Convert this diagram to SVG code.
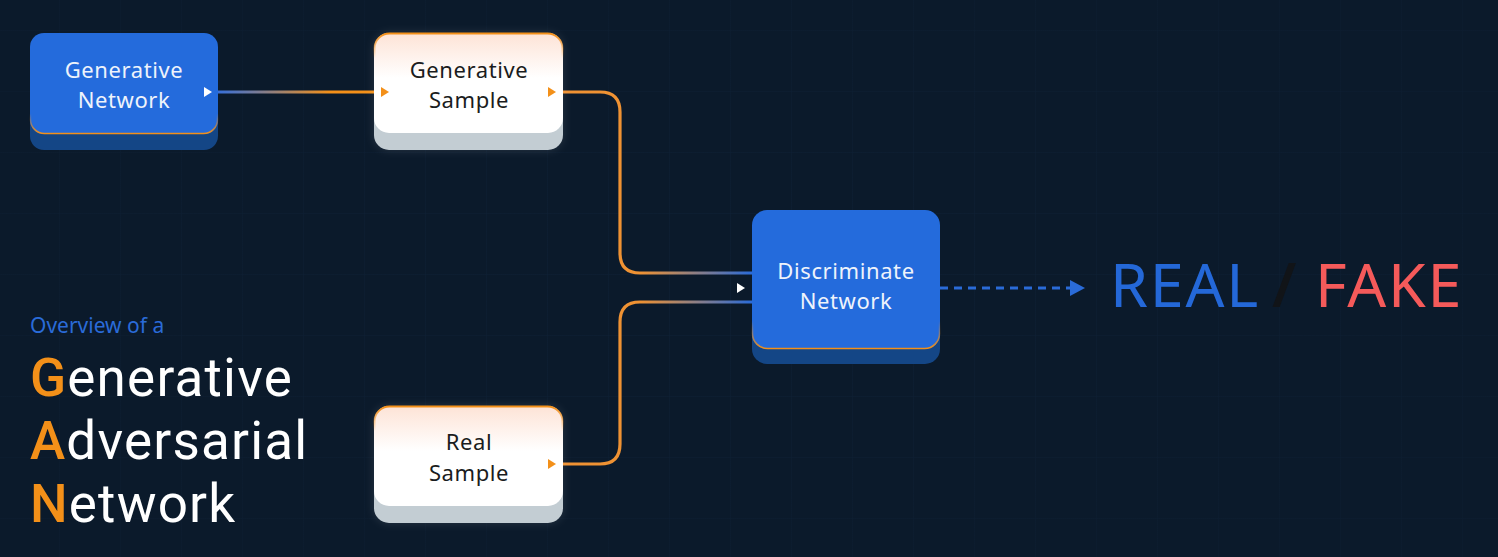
<svg xmlns="http://www.w3.org/2000/svg" width="1498" height="557" viewBox="0 0 1498 557">
<defs>
<style>
.bg{fill:#0b1a2b}
.nt{font-family:"Noto Sans","Liberation Sans",sans-serif;font-size:22px;text-anchor:middle;letter-spacing:0.6px}
.wt{fill:#eef3fb}
.dk{fill:#1a1c20}
.blueTop{fill:#246bdc}
.blueSh{fill:#144686}
.whiteSh{fill:#c3cdd3}
.conn{fill:none;stroke-width:3.2}
.big{font-family:Roboto,"Noto Sans","Liberation Sans",sans-serif;font-size:53px;fill:#ffffff;letter-spacing:1.2px}
.ini{fill:#f39019;font-weight:500}
</style>
<pattern id="grid" width="61" height="61" patternUnits="userSpaceOnUse" x="-1" y="31">
<path d="M61 0V61M0 61H61" fill="none" stroke="#10243a" stroke-width="1"/>
</pattern>
<radialGradient id="vig" cx="0.5" cy="0.5" r="0.6">
<stop offset="0" stop-color="#0b1a2b" stop-opacity="0.2"/>
<stop offset="1" stop-color="#0b1a2b" stop-opacity="0.6"/>
</radialGradient>
<linearGradient id="peach" x1="0" y1="0" x2="0" y2="1">
<stop offset="0" stop-color="#fde3d6"/>
<stop offset="0.45" stop-color="#ffffff"/>
<stop offset="1" stop-color="#ffffff"/>
</linearGradient>
<linearGradient id="topEdge" x1="0" y1="0" x2="0" y2="1">
<stop offset="0" stop-color="#f39019"/>
<stop offset="0.25" stop-color="#f39019" stop-opacity="0"/>
<stop offset="1" stop-color="#f39019" stop-opacity="0"/>
</linearGradient>
<linearGradient id="botEdge" x1="0" y1="0" x2="0" y2="1">
<stop offset="0" stop-color="#f39019" stop-opacity="0"/>
<stop offset="0.8" stop-color="#f39019" stop-opacity="0"/>
<stop offset="1" stop-color="#f39019"/>
</linearGradient>
<linearGradient id="g1" gradientUnits="userSpaceOnUse" x1="220" y1="0" x2="330" y2="0">
<stop offset="0" stop-color="#3a70d6"/>
<stop offset="1" stop-color="#f39019"/>
</linearGradient>
<linearGradient id="g2" gradientUnits="userSpaceOnUse" x1="640" y1="0" x2="752" y2="0">
<stop offset="0" stop-color="#ef9233"/>
<stop offset="1" stop-color="#2a6bd8"/>
</linearGradient>
<filter id="glow" x="-20%" y="-20%" width="140%" height="140%">
<feGaussianBlur stdDeviation="5"/>
</filter>
</defs>
<rect class="bg" x="0" y="0" width="1498" height="557"/>
<rect x="0" y="0" width="1498" height="557" fill="url(#grid)"/>
<rect x="0" y="0" width="1498" height="557" fill="url(#vig)"/>

<g id="connectors">
<path class="conn" d="M218 92H375" stroke="url(#g1)"/>
<path class="conn" d="M563 92H600Q620 92 620 112V253Q620 273 640 273H752" stroke="url(#g2)"/>
<path class="conn" d="M563 464H600Q620 464 620 444V322Q620 302 640 302H752" stroke="url(#g2)"/>
<path d="M940 288H1070" fill="none" stroke="#2a6bd8" stroke-width="3" stroke-dasharray="8 6"/>
<path d="M1070 280L1085 288L1070 296Z" fill="#2a6bd8"/>
</g>

<g id="node-generative-network">
<rect class="blueSh" x="30" y="50" width="188" height="100" rx="14"/>
<rect class="blueTop" x="30" y="33" width="188" height="101" rx="14"/>
<rect x="30.5" y="33.5" width="187" height="100" rx="14" fill="none" stroke="url(#botEdge)" stroke-width="1.5"/>
<text class="nt wt" x="124" y="78">Generative</text>
<text class="nt wt" x="124" y="108">Network</text>
<path d="M204 87L212 92L204 97Z" fill="#ffffff"/>
</g>

<g id="node-generative-sample">
<rect x="374" y="33" width="189" height="117" rx="15" fill="#ffffff" opacity="0.12" filter="url(#glow)"/>
<rect class="whiteSh" x="374" y="50" width="189" height="100" rx="15"/>
<rect x="374" y="33" width="189" height="100" rx="15" fill="url(#peach)"/>
<rect x="374.5" y="33.5" width="188" height="99" rx="15" fill="none" stroke="url(#topEdge)" stroke-width="2"/>
<text class="nt dk" x="469" y="78">Generative</text>
<text class="nt dk" x="469" y="108">Sample</text>
<path d="M381 87L389 92L381 97Z" fill="#f39019"/>
<path d="M548 87L556 92L548 97Z" fill="#f39019"/>
</g>

<g id="node-real-sample">
<rect x="374" y="406" width="189" height="117" rx="15" fill="#ffffff" opacity="0.12" filter="url(#glow)"/>
<rect class="whiteSh" x="374" y="422" width="189" height="101" rx="15"/>
<rect x="374" y="406" width="189" height="100" rx="15" fill="url(#peach)"/>
<rect x="374.5" y="406.5" width="188" height="99" rx="15" fill="none" stroke="url(#topEdge)" stroke-width="2"/>
<text class="nt dk" x="469" y="450">Real</text>
<text class="nt dk" x="469" y="481">Sample</text>
<path d="M548 459L556 464L548 469Z" fill="#f39019"/>
</g>

<g id="node-discriminate-network">
<rect class="blueSh" x="752" y="226" width="188" height="138" rx="15"/>
<rect class="blueTop" x="752" y="210" width="188" height="139" rx="15"/>
<rect x="752.5" y="210.5" width="187" height="138" rx="15" fill="none" stroke="url(#botEdge)" stroke-width="1.5"/>
<text class="nt wt" x="846" y="279">Discriminate</text>
<text class="nt wt" x="846" y="309">Network</text>
<path d="M737 283L745 288L737 293Z" fill="#ffffff"/>
</g>

<g id="result">
<text x="1110" y="307" font-family="Noto Sans, Liberation Sans, sans-serif" font-size="61" letter-spacing="1.8"><tspan fill="#2468d8">REAL</tspan><tspan x="1272" fill="#111418" font-weight="600">/</tspan><tspan x="1315" fill="#f55a5a">FAKE</tspan></text>
</g>

<g id="title">
<text x="30" y="333" font-family="Noto Sans, Liberation Sans, sans-serif" font-size="21" fill="#2a6bd8">Overview of a</text>
<text class="big" x="30" y="396"><tspan class="ini">G</tspan>enerative</text>
<text class="big" x="30" y="459"><tspan class="ini">A</tspan>dversarial</text>
<text class="big" x="30" y="522"><tspan class="ini">N</tspan>etwork</text>
</g>
</svg>
